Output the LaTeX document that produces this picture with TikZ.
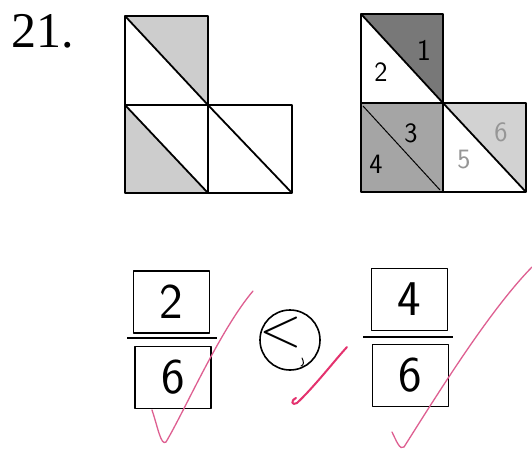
\documentclass[tikz,border=0pt]{standalone}
\usepackage{fontspec}
\setmainfont{Liberation Serif}
\definecolor{checkpink}{RGB}{222,95,145}
\definecolor{checkred}{RGB}{228,50,110}
\definecolor{shadelight}{RGB}{205,205,205}
\definecolor{shadedark}{RGB}{120,120,120}
\definecolor{shademid}{RGB}{165,165,165}
\definecolor{shadepale}{RGB}{210,210,210}
\definecolor{penlight}{RGB}{150,150,150}
\begin{document}
\begin{tikzpicture}[x=1pt,y=-1pt,line join=round]
\tikzset{
  sq/.style={draw=black,line width=1.8pt},
  diag/.style={draw=black,line width=1.8pt},
  hand/.style={font=\sffamily\fontsize{#1}{#1}\selectfont,inner sep=0pt},
  numbox/.style={draw,line width=1.8pt,minimum width=76pt,minimum height=62pt,inner sep=0pt,font=\sffamily\fontsize{50}{50}\selectfont},
  fracline/.style={draw,line width=1.8pt},
  relcircle/.style={draw,circle,line width=1.6pt,minimum size=60pt,inner sep=0pt},
  check/.style={draw=checkpink,line width=1.3pt,line cap=round},
  checkmid/.style={draw=checkred,line width=2pt,line cap=round}
}
\useasboundingbox (0,0) rectangle (532,450);
\fill[white] (0,0) rectangle (532,450);

% title
\node[font=\fontsize{50}{50}\selectfont,inner sep=0pt,anchor=west] (title) at (11,31) {21.};

% left figure
\fill[shadelight] (125,16) -- (208,16) -- (208,105) -- cycle;
\fill[shadelight] (125,105) -- (125,193) -- (208,193) -- cycle;
\draw[sq] (125,16) rectangle (208,105);
\draw[sq] (125,105) rectangle (208,193);
\draw[sq] (208,105) rectangle (292,193);
\draw[diag] (125,16) -- (208,105);
\draw[diag] (125,105) -- (208,193);
\draw[diag] (208,105) -- (292,193);

% right figure
\fill[shadedark] (361,14) -- (443,14) -- (443,103) -- cycle;
\fill[shademid] (361,103) rectangle (443,192);
\fill[shadepale] (443,103) -- (526,103) -- (526,192) -- cycle;
\draw[sq] (361,14) rectangle (443,103);
\draw[sq] (361,103) rectangle (443,192);
\draw[sq] (443,103) rectangle (526,192);
\draw[diag] (361,14) -- (443,103);
\draw[black,line width=1pt] (363,106) -- (440,190);
\draw[diag] (443,103) -- (526,192);
\node[hand=30] (l1) at (424,50) {1};
\node[hand=28] (l2) at (381,72) {2};
\node[hand=28] (l3) at (411,133) {3};
\node[hand=28] (l4) at (376,164) {4};
\node[hand=28,text=penlight] (l5) at (464,160) {5};
\node[hand=28,text=penlight] (l6) at (501,132) {6};

% fractions
\node[numbox] (a) at (171.5,302) {2};
\node[numbox] (b) at (173,377.5) {6};
\coordinate (la) at (127,338);
\coordinate (lb) at (217,338);
\draw[fracline] (la) -- (lb);
\node[numbox] (c) at (409.5,299.5) {4};
\node[numbox] (d) at (410.5,375.5) {6};
\coordinate (lc) at (363,337);
\coordinate (ld) at (453,337);
\draw[fracline] (lc) -- (ld);

% comparison
\node[relcircle] (rel) at (290,340) {};
\node[hand=56] (lt) at (281,333) {<};
\draw[black,line width=1pt,line cap=round] (302,358) .. controls (304,362) and (304,365) .. (301,366);

% check marks
\draw[check] (152,410) .. controls (158,428) and (161,446) .. (166,442) .. controls (185,410) and (220,330) .. (253,291);
\draw[checkmid] (296,398) .. controls (290,401) and (292,406) .. (297,403) .. controls (315,386) and (335,360) .. (347,347);
\draw[check] (392,432) .. controls (396,440) and (400,451) .. (404,447) .. controls (440,390) and (490,310) .. (532,267);
\end{tikzpicture}
\end{document}
